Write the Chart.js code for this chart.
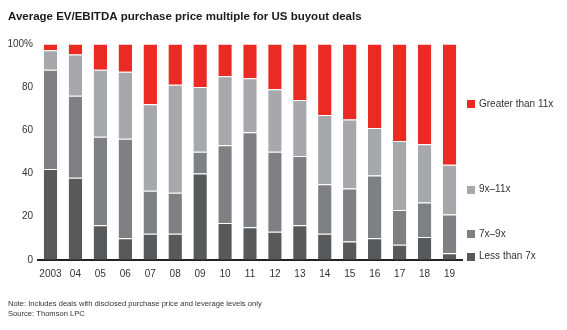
<!DOCTYPE html>
<html>
<head>
<meta charset="utf-8">
<script src="https://cdn.jsdelivr.net/npm/chart.js@4/dist/chart.umd.min.js"></script>
<style>
  html, body { margin: 0; padding: 0; background: #fff; }
  #wrap { position: relative; width: 567px; height: 330px; }
</style>
</head>
<body>
<div id="wrap"><canvas id="myCanvas"></canvas></div>
<script>
// data (% of deals)
var years = ['2003', '04', '05', '06', '07', '08', '09', '10', '11', '12', '13', '14', '15', '16', '17', '18', '19'];
var less_7x  = [42, 38, 16, 10, 12, 12, 40, 17, 15, 13, 16, 12, 8.5, 10, 7, 10.5, 3];
var x7_9     = [46, 38, 41, 46, 20, 19, 10, 36, 44, 37, 32, 23, 24.5, 29, 16, 16, 18];
var x9_11    = [9, 19, 31, 31, 40, 50, 30, 32, 25, 29, 26, 32, 32, 22, 32, 27, 23];
var over_11x = [3, 5, 12, 13, 28, 19, 20, 15, 16, 21, 26, 33, 35, 39, 45, 46.5, 56];

var colors = {
    red: '#ec2a24',
    light: '#a7a8ab',
    mid: '#7f8083',
    dark: '#58595b'
};

var FONT = "'Liberation Sans', Arial, sans-serif";

function make_set(label, data, color) {
    return {
        label: label,
        data: data,
        backgroundColor: color,
        borderColor: '#ffffff',
        borderWidth: {top: 1, bottom: 0, left: 0, right: 0},
        borderSkipped: false,
        barPercentage: 0.54,
        categoryPercentage: 1.0
    };
}

// legend on the right, each label next to the middle of its 2019 segment
var sideLegend = {
    id: 'sideLegend',
    afterDraw: function (chart) {
        var ctx = chart.ctx;
        var x = chart.chartArea.right + 5;
        ctx.save();
        ctx.font = '10px ' + FONT;
        ctx.textBaseline = 'middle';
        chart.data.datasets.forEach(function (ds, i) {
            var meta = chart.getDatasetMeta(i);
            var bar = meta.data[meta.data.length - 1];
            var y = (bar.y + bar.base) / 2;
            ctx.fillStyle = ds.backgroundColor;
            ctx.fillRect(x, Math.round(y - 4), 8, 8);
            ctx.fillStyle = '#333';
            ctx.fillText(ds.label, x + 12, y);
        });
        ctx.restore();
    }
};

var myChart = new Chart(document.getElementById('myCanvas'), {
    type: 'bar',
    data: {
        labels: years,
        datasets: [
            make_set('Less than 7x', less_7x, colors.dark),
            make_set('7x\u20139x', x7_9, colors.mid),
            make_set('9x\u201311x', x9_11, colors.light),
            make_set('Greater than 11x', over_11x, colors.red)
        ]
    },
    plugins: [sideLegend],
    options: {
        responsive: true,
        maintainAspectRatio: false,
        animation: false,
        layout: {
            padding: {top: 0, left: 8, right: 105, bottom: 0}
        },
        plugins: {
            legend: {display: false},
            tooltip: {enabled: false},
            title: {
                display: true,
                text: 'Average EV/EBITDA purchase price multiple for US buyout deals',
                align: 'start',
                color: '#1a1a1a',
                font: {family: FONT, size: 11.5, weight: 'bold'},
                padding: {top: 9.5, bottom: 20.5}
            },
            subtitle: {
                display: true,
                position: 'bottom',
                align: 'start',
                text: ['Note: Includes deals with disclosed purchase price and leverage levels only',
                       'Source: Thomson LPC'],
                color: '#333',
                font: {family: FONT, size: 7.6, lineHeight: 1.2},
                padding: {top: 12, bottom: 12}
            }
        },
        scales: {
            x: {
                stacked: true,
                grid: {display: false, drawTicks: false},
                border: {display: true, color: '#222', width: 2},
                ticks: {
                    color: '#333',
                    font: {family: FONT, size: 10},
                    padding: 8,
                    maxRotation: 0,
                    autoSkip: false
                }
            },
            y: {
                stacked: true,
                min: 0,
                max: 100,
                afterFit: function (scale) { scale.width = 30; },
                grid: {display: false, drawTicks: false},
                border: {display: false},
                ticks: {
                    stepSize: 20,
                    color: '#333',
                    font: {family: FONT, size: 10},
                    padding: 5,
                    callback: function (v) { return v == 100 ? '100%' : v; }
                }
            }
        }
    }
});
</script>
</body>
</html>
